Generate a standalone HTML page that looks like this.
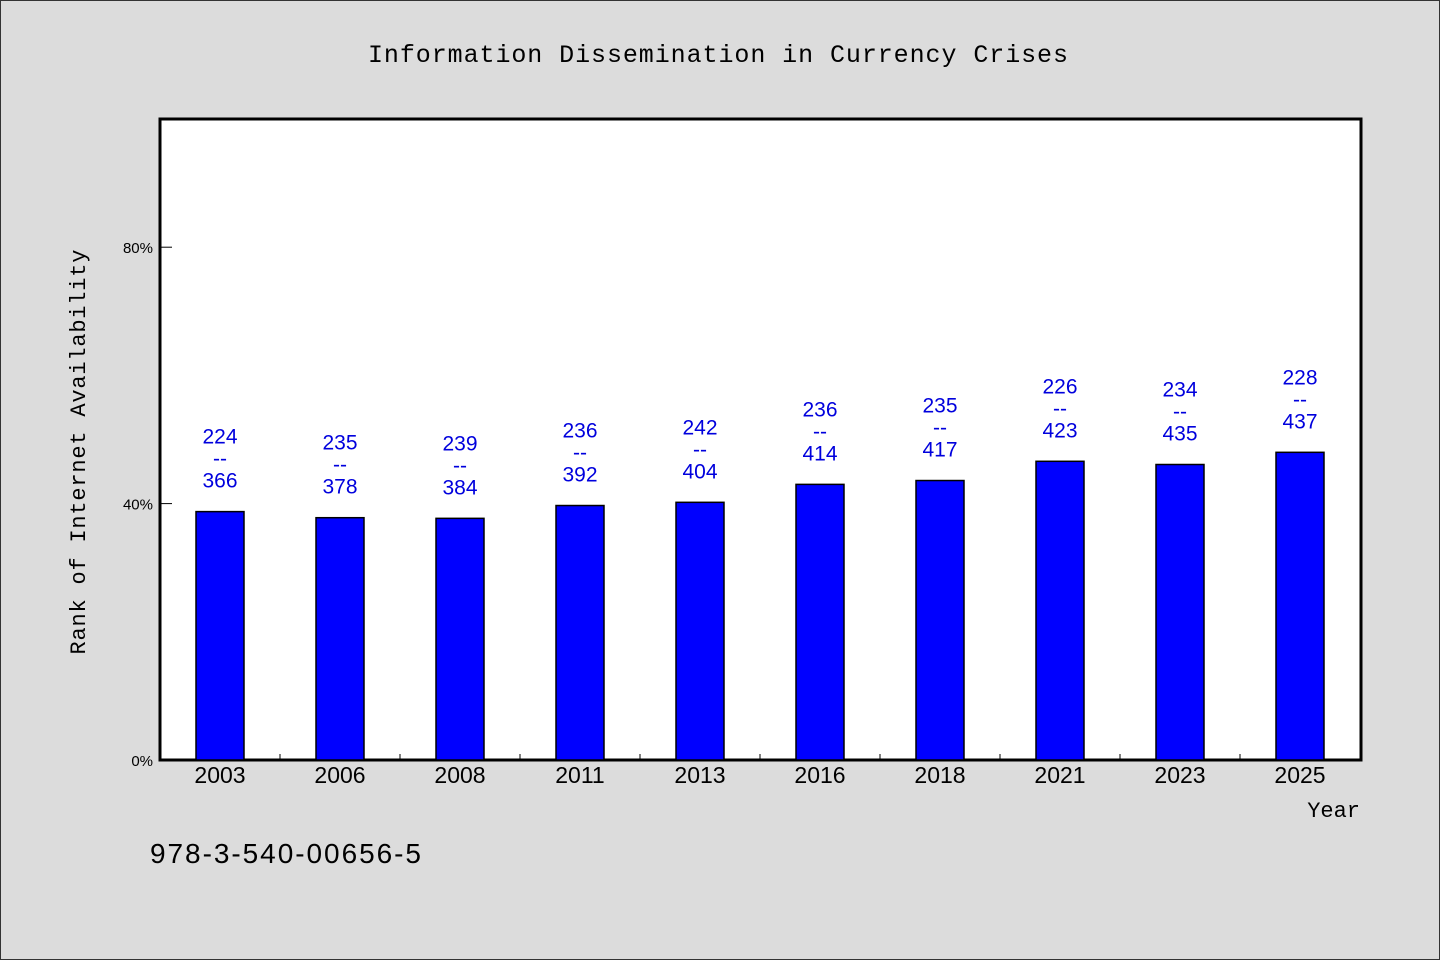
<!DOCTYPE html>
<html><head><meta charset="utf-8"><style>
html,body{margin:0;padding:0;background:#dcdcdc}
svg{display:block}
</style></head><body>
<svg id="chart" width="1440" height="960" viewBox="0 0 1440 960" xmlns="http://www.w3.org/2000/svg">
<rect x="0.5" y="0.5" width="1439" height="959" fill="#dcdcdc" stroke="#333"/>
<text x="718" y="62" text-anchor="middle" font-family="Liberation Mono, monospace" font-size="25" textLength="700" lengthAdjust="spacing">Information Dissemination in Currency Crises</text>
<rect x="160" y="119" width="1201" height="641" fill="#fff" stroke="#000" stroke-width="3"/>
<g id="bars"></g>
<g id="axes"></g>
<text transform="translate(85,452) rotate(-90)" text-anchor="middle" font-family="Liberation Mono, monospace" font-size="22" textLength="405" lengthAdjust="spacing">Rank of Internet Availability</text>
<text x="1360" y="817" text-anchor="end" font-family="Liberation Mono, monospace" font-size="22">Year</text>
<text x="150" y="863" font-family="Liberation Sans, sans-serif" font-size="28" textLength="271" lengthAdjust="spacing">978-3-540-00656-5</text>
</svg>
<script>
const categories = ["2003","2006","2008","2011","2013","2016","2018","2021","2023","2025"];
const values = [38.75, 37.8, 37.7, 39.7, 40.2, 43.0, 43.6, 46.6, 46.1, 48.0];
const topLabels = ["224","235","239","236","242","236","235","226","234","228"];
const bottomLabels = ["366","378","384","392","404","414","417","423","435","437"];
const yTicks = [0, 40, 80];

const NS = "http://www.w3.org/2000/svg";
const x0 = 160, x1 = 1360, yBase = 760, yTop = 119, yMax = 100;
const slot = (x1 - x0) / categories.length;
const yScale = v => yBase - v / yMax * (yBase - yTop);
const xCenter = i => x0 + slot * (i + 0.5);
function mk(tag, attrs, parent){const e=document.createElementNS(NS,tag);for(const k in attrs)e.setAttribute(k,attrs[k]);parent.appendChild(e);return e;}
const bars = document.getElementById("bars");
const axes = document.getElementById("axes");
categories.forEach((c,i)=>{
  const cx = xCenter(i), top = yScale(values[i]);
  const r = mk("rect",{x:cx-24,y:top,width:48,height:yBase-top,fill:"#0000ff",stroke:"#000","stroke-width":1.5},bars);
  
  
  const g = mk("g",{fill:"#0000dd","font-family":"Liberation Sans, sans-serif","font-size":"21","text-anchor":"middle"},bars);
  
  
  const t1 = mk("text",{x:cx,y:top-68},g); t1.textContent = topLabels[i];
  const t2 = mk("text",{x:cx,y:top-46},g); t2.textContent = "--";
  const t3 = mk("text",{x:cx,y:top-24},g); t3.textContent = bottomLabels[i];
  const xl = mk("text",{x:cx,y:783,"text-anchor":"middle","font-family":"Liberation Sans, sans-serif","font-size":"23"},axes);
  xl.textContent = c;
  
  
  if(i>0){
    const tk = mk("line",{x1:x0+slot*i,x2:x0+slot*i,y1:yBase-6,y2:yBase,stroke:"#000","stroke-width":1},axes);
    
    
  }
});
yTicks.forEach(v=>{
  const y = yScale(v);
  const l = mk("line",{x1:x0,x2:x0+12,y1:y,y2:y,stroke:"#000","stroke-width":1},axes);
  
  
  const t = mk("text",{x:153,y:y+6,"text-anchor":"end","font-family":"Liberation Sans, sans-serif","font-size":"15"},axes);
  t.textContent = v+"%";
  
  
});
</script>
</body></html>
